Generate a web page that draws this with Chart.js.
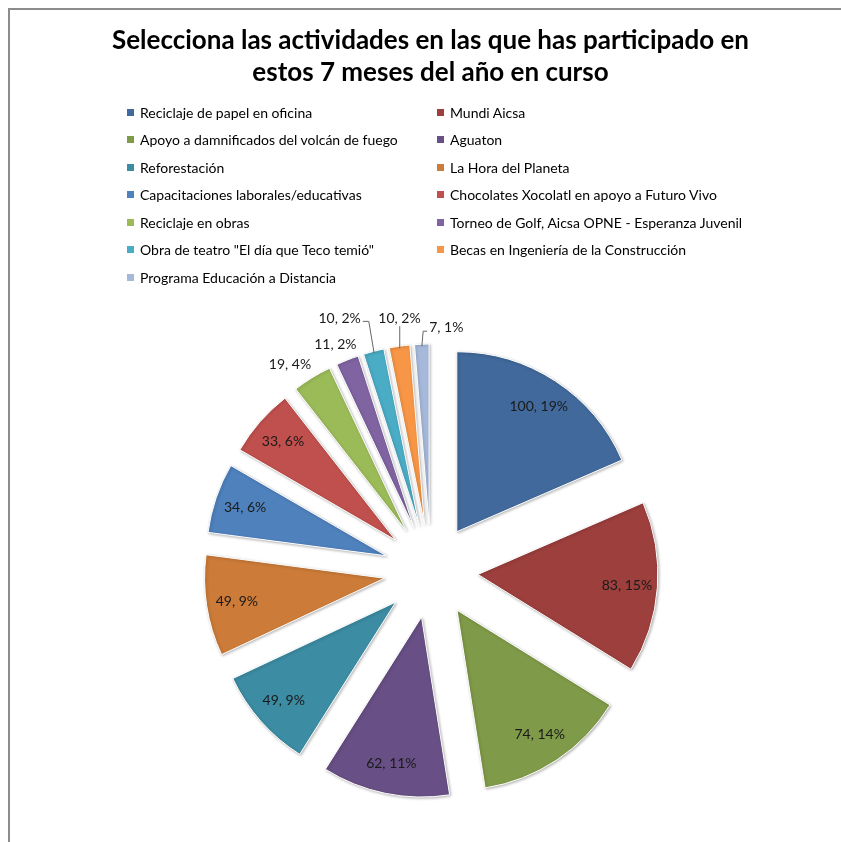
<!DOCTYPE html>
<html lang="es">
<head>
<meta charset="utf-8">
<title>Actividades</title>
<script src="https://cdn.jsdelivr.net/npm/chart.js@4.4.1/dist/chart.umd.min.js"></script>
<style>
  html, body { margin: 0; padding: 0; background: #fff; }
  #wrap { position: relative; width: 841px; height: 842px; overflow: hidden; font-family: Lato, "Open Sans", sans-serif; }
  #frame { position: absolute; left: 8px; top: 8px; right: -10px; bottom: -10px; border-left: 2px solid #8c8c8c; border-top: 2px solid #8c8c8c; }
  #pie { position: absolute; left: 0; top: 0; }
  #title { position: absolute; left: 0; width: 861px; top: 23px; text-align: center; font-weight: bold; font-size: 26px; line-height: 32px; color: #000; }
  .item { position: absolute; white-space: nowrap; font-size: 14px; line-height: 16px; height: 16px; color: #000; }
  .item i { position: absolute; left: 0; top: 4px; width: 7px; height: 7px; }
  .item span { position: absolute; left: 13px; top: 0; }
</style>
</head>
<body>
<div id="wrap">
  <div id="frame"></div>
  <canvas id="pie" width="841" height="842"></canvas>
  <div id="title">Selecciona las actividades en las que has participado en<br>estos 7 meses del año en curso</div>
  <div id="legend"></div>
</div>
<script>
// Data
const categories = [
  'Reciclaje de papel en oficina',
  'Mundi Aicsa',
  'Apoyo a damnificados del volcán de fuego',
  'Aguaton',
  'Reforestación',
  'La Hora del Planeta',
  'Capacitaciones laborales/educativas',
  'Chocolates Xocolatl en apoyo a Futuro Vivo',
  'Reciclaje en obras',
  'Torneo de Golf, Aicsa OPNE - Esperanza Juvenil',
  'Obra de teatro "El día que Teco temió"',
  'Becas en Ingeniería de la Construcción',
  'Programa Educación a Distancia'
];
const participants = [100, 83, 74, 62, 49, 49, 34, 33, 19, 11, 10, 10, 7];

// Styles
const sliceColors = [
  '#41699B', '#9C3F3D', '#7F9A48', '#684F85', '#3C8CA3', '#CC7B38',
  '#4F81BD', '#C0504D', '#9BBB59', '#8064A2', '#4BACC6', '#F79646', '#A7B9DB'
];
const RADIUS = 180;
const SHIFT = 47;            // how far every slice is pulled out of the centre
const LABEL_FONT = '14px Lato, "Open Sans", sans-serif';

// small slices get their label outside the pie (nudge from the slice's outer point)
const outsideLabels = {
  8: { dx: -22, dy: -13 },
  9: { dx: -12, dy: -15 },
  10: { dx: -34, dy: -33, leader: true },
  11: { dx: 0, dy: -28, leader: true },
  12: { dx: 24.5, dy: -17, leader: true }
};

// Percentages rounded the way Excel does it (they add up to 100)
const percentLabels = (values) => {
  const total = values.reduce((a, b) => a + b, 0);
  const raw = values.map(v => v / total * 100);
  const out = raw.map(Math.floor);
  const left = 100 - out.reduce((a, b) => a + b, 0);
  const order = raw.map((r, i) => [r - Math.floor(r), i]).sort((a, b) => b[0] - a[0]);
  for (let k = 0; k < left; k++) out[order[k][1]]++;
  return out;
};
const percents = percentLabels(participants);

// Legend (two columns)
const legendEl = document.getElementById('legend');
categories.forEach((name, i) => {
  const col = i % 2;
  const row = Math.floor(i / 2);
  const item = document.createElement('div');
  item.className = 'item';
  item.style.left = (col === 0 ? 127 : 437) + 'px';
  item.style.top = (104.5 + row * 27.5) + 'px';
  item.innerHTML = '<i style="background:' + sliceColors[i] + '"></i><span></span>';
  item.querySelector('span').textContent = name;
  legendEl.appendChild(item);
});

// exploded pie: move each arc out along its middle angle
const explode = {
  id: 'explode',
  afterDatasetsUpdate(chart) {
    chart.getDatasetMeta(0).data.forEach(arc => {
      const mid = (arc.startAngle + arc.endAngle) / 2;
      arc.x += Math.cos(mid) * SHIFT;
      arc.y += Math.sin(mid) * SHIFT;
    });
  }
};

const sliceShadow = {
  id: 'sliceShadow',
  beforeDatasetsDraw(chart) {
    const ctx = chart.ctx;
    ctx.save();
    ctx.shadowColor = 'rgba(0, 0, 0, 0.28)';
    ctx.shadowBlur = 3;
    ctx.shadowOffsetX = 1;
    ctx.shadowOffsetY = 1;
  },
  afterDatasetsDraw(chart) {
    chart.ctx.restore();
  }
};

const sliceLabels = {
  id: 'sliceLabels',
  afterDatasetsDraw(chart) {
    const ctx = chart.ctx;
    const meta = chart.getDatasetMeta(0);
    ctx.save();
    ctx.font = LABEL_FONT;
    ctx.fillStyle = '#1a1a1a';
    ctx.strokeStyle = '#666';
    ctx.lineWidth = 1;
    ctx.textAlign = 'center';
    ctx.textBaseline = 'middle';
    meta.data.forEach((arc, i) => {
      const mid = (arc.startAngle + arc.endAngle) / 2;
      const dx = Math.cos(mid), dy = Math.sin(mid);
      const r = arc.outerRadius;
      const text = participants[i] + ', ' + percents[i] + '%';
      const lay = outsideLabels[i];
      if (!lay) {
        ctx.fillText(text, arc.x + dx * r * 0.83, arc.y + dy * r * 0.83);
        return;
      }
      const ox = arc.x + dx * r, oy = arc.y + dy * r;
      const lx = ox + lay.dx, ly = oy + lay.dy;
      ctx.fillText(text, lx, ly);
      if (lay.leader) {
        const w = ctx.measureText(text).width;
        const ex = ox - dx * 2, ey = oy - dy * 2;
        ctx.beginPath();
        if (Math.abs(lay.dx) < 5) {
          ctx.moveTo(ex, ly + 8);
          ctx.lineTo(ex, ey);
        } else if (lay.dx < 0) {
          const sx = lx + w / 2 + 2;
          ctx.moveTo(sx, ly + 3);
          ctx.lineTo(sx + 6, ly + 3);
          ctx.lineTo(ex, ey);
        } else {
          const sx = lx - w / 2 - 2;
          ctx.moveTo(sx, ly + 4);
          ctx.lineTo(sx - 4, ly + 4);
          ctx.lineTo(ex, ey);
        }
        ctx.stroke();
      }
    });
    ctx.restore();
  }
};

new Chart(document.getElementById('pie'), {
  type: 'pie',
  data: {
    labels: categories,
    datasets: [{
      data: participants,
      backgroundColor: sliceColors,
      borderColor: '#ffffff',
      borderWidth: 1
    }]
  },
  options: {
    responsive: false,
    animation: false,
    devicePixelRatio: 1,
    radius: RADIUS,
    layout: { padding: { left: 21, top: 300, right: 0, bottom: 0 } },
    plugins: {
      legend: { display: false },
      title: { display: false },
      tooltip: { enabled: false }
    }
  },
  plugins: [explode, sliceShadow, sliceLabels]
});
</script>
</body>
</html>
